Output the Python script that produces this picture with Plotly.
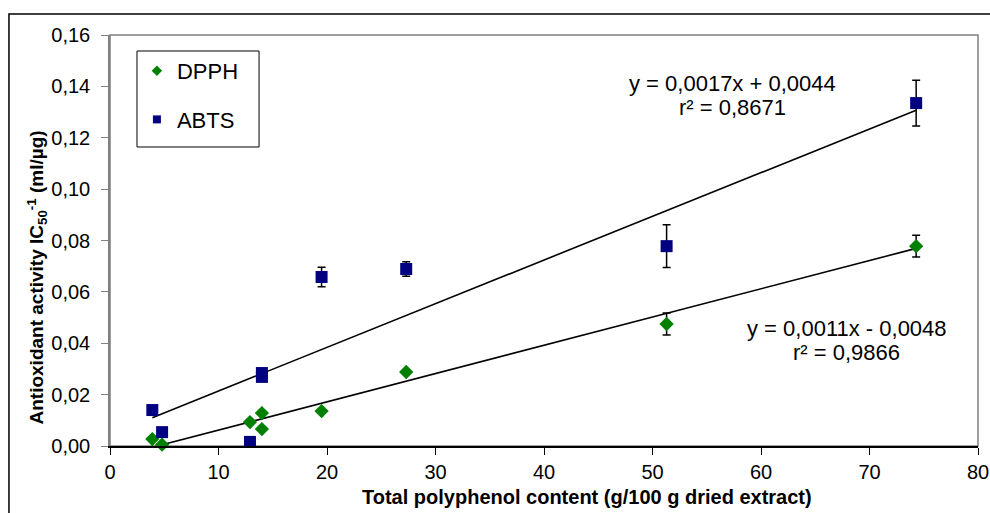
import plotly.graph_objects as go

# Data
x_vals = [3.9, 4.8, 12.9, 14.0, 14.0, 19.5, 27.3, 51.3, 74.3]
dpph = [0.0027, 0.0005, 0.0093, 0.0128, 0.0066, 0.0136, 0.0288, 0.0475, 0.0778]
dpph_err = [0.0, 0.0, 0.0, 0.0008, 0.0, 0.0, 0.0008, 0.0043, 0.0042]
abts = [0.0140, 0.0054, 0.0016, 0.0284, 0.0269, 0.0658, 0.0689, 0.0778, 0.1335]
abts_err = [0.0, 0.0, 0.0, 0.0010, 0.0, 0.0038, 0.0028, 0.0083, 0.0089]

dpph_slope, dpph_icpt = 0.0011, -0.0048
abts_slope, abts_icpt = 0.0017, 0.0044

x_ticks = [0, 10, 20, 30, 40, 50, 60, 70, 80]
y_ticks = [0.00, 0.02, 0.04, 0.06, 0.08, 0.10, 0.12, 0.14, 0.16]

FONT = "Liberation Sans, Arial, sans-serif"

fig = go.Figure()

# trend lines
xr = [min(x_vals), max(x_vals)]
fig.add_trace(go.Scatter(x=xr, y=[abts_slope * v + abts_icpt for v in xr], mode="lines",
                         line=dict(color="black", width=1.6), showlegend=False, hoverinfo="skip"))
fig.add_trace(go.Scatter(x=xr, y=[dpph_slope * v + dpph_icpt for v in xr], mode="lines",
                         line=dict(color="black", width=1.6), showlegend=False, hoverinfo="skip"))

fig.add_trace(go.Scatter(
    x=x_vals, y=dpph, mode="markers", name="DPPH", showlegend=False,
    marker=dict(symbol="diamond", size=11, color="#008000"),
    error_y=dict(type="data", array=dpph_err, color="black", thickness=1.5, width=4),
    cliponaxis=False,
))
fig.add_trace(go.Scatter(
    x=x_vals, y=abts, mode="markers", name="ABTS", showlegend=False,
    marker=dict(symbol="square", size=12, color="#000080"),
    error_y=dict(type="data", array=abts_err, color="black", thickness=1.5, width=4),
    cliponaxis=False,
))
# legend entries (smaller symbols as in the reference legend)
fig.add_trace(go.Scatter(x=[None], y=[None], mode="markers", name="DPPH", legendgroup="a",
                         marker=dict(symbol="diamond", size=8, color="#008000")))
fig.add_trace(go.Scatter(x=[None], y=[None], mode="markers", name="ABTS", legendgroup="b",
                         marker=dict(symbol="square", size=8, color="#000080")))

# plot-area frame (gray), outer frame (black), legend box
fig.add_shape(type="rect", xref="paper", yref="paper", x0=0, x1=1, y0=0, y1=1,
              line=dict(color="#808080", width=1.5), layer="below")
fig.add_shape(type="rect", xref="paper", yref="paper", x0=-0.1164, x1=1.05, y0=-0.3, y1=1.0511,
              line=dict(color="black", width=1.5), layer="below")
fig.add_shape(type="rect", xref="paper", yref="paper", x0=0.0311, x1=0.1717, y0=0.7275, y1=0.9611,
              line=dict(color="black", width=1), fillcolor="white", layer="above")

eq_font = dict(family=FONT, size=22, color="black")
fig.add_annotation(x=0.7177, y=0.882, xref="paper", yref="paper", text="y = 0,0017x + 0,0044",
                   showarrow=False, font=eq_font, yanchor="middle", xanchor="center")
fig.add_annotation(x=0.7177, y=0.8236, xref="paper", yref="paper", text="r² = 0,8671",
                   showarrow=False, font=eq_font, yanchor="middle", xanchor="center")
fig.add_annotation(x=0.849, y=0.2871, xref="paper", yref="paper", text="y = 0,0011x - 0,0048",
                   showarrow=False, font=eq_font, yanchor="middle", xanchor="center")
fig.add_annotation(x=0.849, y=0.2263, xref="paper", yref="paper", text="r² = 0,9866",
                   showarrow=False, font=eq_font, yanchor="middle", xanchor="center")

# axis titles
title_font = dict(family=FONT, size=20, color="black")
fig.add_annotation(x=0.549, y=-0.124, xref="paper", yref="paper",
                   text="<b>Total polyphenol content (g/100 g dried extract)</b>",
                   showarrow=False, font=title_font, yanchor="middle", xanchor="center")
fig.add_annotation(x=-0.0841, y=0.410, xref="paper", yref="paper", textangle=-90,
                   text="<b>Antioxidant activity IC<sub>50</sub><sup>-1</sup> (ml/µg)</b>",
                   showarrow=False, font=dict(family=FONT, size=19, color="black"),
                   yanchor="middle", xanchor="center")

fig.update_layout(
    width=990, height=513,
    margin=dict(l=110, r=12, t=35, b=67, autoexpand=False),
    paper_bgcolor="white", plot_bgcolor="white",
    separators=", ",
    font=dict(family=FONT, size=20, color="black"),
    showlegend=True,
    legend=dict(x=0.031, y=0.9635, xanchor="left", yanchor="top",
                borderwidth=0, bgcolor="rgba(0,0,0,0)",
                font=dict(family=FONT, size=22), tracegroupgap=17,
                itemwidth=30),
    xaxis=dict(range=[0, 80], tickvals=x_ticks, ticks="outside", ticklen=7, tickcolor="black",
               showline=True, linecolor="black", linewidth=1.5, showgrid=False, zeroline=False,
               tickfont=dict(size=20), ticklabelstandoff=0, automargin=False),
    yaxis=dict(range=[0, 0.16], tickvals=y_ticks, tickformat=".2f", ticks="outside", ticklen=7,
               tickcolor="#808080", showline=True, linecolor="#808080", linewidth=1.5,
               showgrid=False, zeroline=False, tickfont=dict(size=20), ticklabelstandoff=7,
               automargin=False),
)

fig.write_html("out.html", config={"displayModeBar": False},
               post_script="document.body.style.margin='0px';")
